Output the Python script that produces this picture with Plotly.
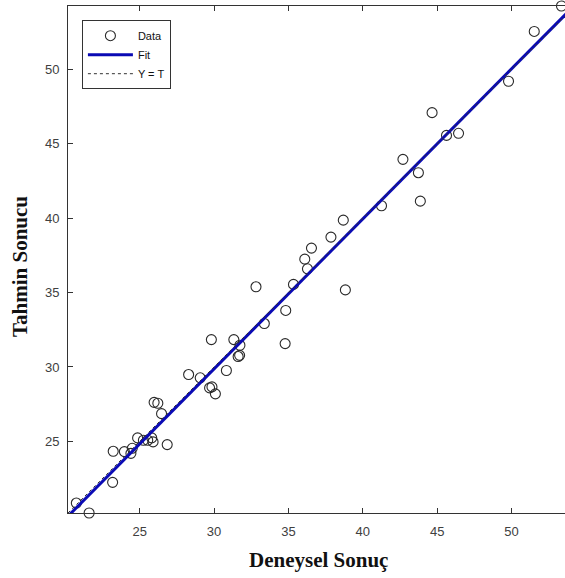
import numpy as np
import plotly.graph_objects as go

# Experimental (target) values
deneysel = [20.74, 21.60, 23.18, 23.22, 23.97, 24.41, 24.50, 24.86, 25.25, 25.54,
            25.81, 25.90, 26.85, 25.97, 26.22, 26.47, 28.29, 29.07, 29.70, 29.86,
            30.09, 30.83, 29.82, 31.33, 31.74, 31.62, 31.72, 33.38, 34.82, 34.78,
            32.82, 35.34, 36.28, 36.10, 36.55, 37.86, 38.69, 38.83, 41.26, 43.87,
            43.74, 42.70, 45.63, 46.44, 44.66, 49.80, 51.53, 53.36]
# Predicted values
tahmin = [20.85, 20.18, 22.24, 24.33, 24.31, 24.19, 24.53, 25.23, 25.07, 25.07,
          25.23, 24.96, 24.78, 27.62, 27.56, 26.86, 29.49, 29.27, 28.59, 28.66,
          28.19, 29.76, 31.84, 31.84, 31.46, 30.70, 30.78, 32.92, 33.80, 31.57,
          35.39, 35.55, 36.60, 37.25, 37.99, 38.73, 39.87, 35.18, 40.84, 41.15,
          43.06, 43.96, 45.57, 45.71, 47.10, 49.21, 52.56, 54.27]
tick_vals = [25, 30, 35, 40, 45, 50]

t = np.array(deneysel)
y = np.array(tahmin)
lo = float(min(t.min(), y.min()))
hi = float(max(t.max(), y.max()))
lim = np.array([lo, hi])
m, b = np.polyfit(t, y, 1)

fig = go.Figure()
fig.add_trace(go.Scatter(x=t, y=y, mode="markers", name="Data", cliponaxis=False,
                         marker=dict(symbol="circle-open", size=10,
                                     color="#2a2a2a", line=dict(width=1.1))))
fig.add_trace(go.Scatter(x=lim, y=m * lim + b, mode="lines", name="Fit",
                         line=dict(color="rgb(10,10,180)", width=3)))
fig.add_trace(go.Scatter(x=lim, y=lim, mode="lines", name="Y = T",
                         line=dict(color="#333333", width=1, dash="dot")))

axis_common = dict(
    tickvals=tick_vals, ticks="inside", ticklen=5, tickcolor="#333333",
    showline=True, linecolor="#333333", linewidth=1, showgrid=False,
    zeroline=False, automargin=False,
    tickfont=dict(family="Liberation Sans", size=13, color="#404040"),
)
fig.update_xaxes(range=[lo, lo + (hi - lo) * 497 / 507], mirror="ticks",
                 ticklabelstandoff=6, **axis_common)
fig.update_yaxes(range=[lo, hi], ticklabelstandoff=5, **axis_common)

title_font = dict(family="Liberation Serif", size=21, color="#111111")
fig.add_annotation(text="<b>Deneysel Sonuç</b>", xref="paper", yref="paper",
                   x=(318 - 68) / 497, y=-(560 - 513) / 507, xanchor="center",
                   yanchor="middle", showarrow=False, font=title_font)
fig.add_annotation(text="<b>Tahmin Sonucu</b>", xref="paper", yref="paper",
                   x=-(68 - 20) / 497, y=(513 - 267) / 507, xanchor="center",
                   yanchor="middle", textangle=-90, showarrow=False, font=title_font)

fig.update_layout(
    width=565, height=578,
    margin=dict(l=68, r=0, t=6, b=65),
    plot_bgcolor="white", paper_bgcolor="white",
    showlegend=True,
    legend=dict(x=0.028, y=0.972, xanchor="left", yanchor="top",
                bgcolor="white", bordercolor="#333333", borderwidth=1,
                font=dict(family="Liberation Sans", size=11, color="#111111"),
                tracegroupgap=0, itemwidth=45),
)
fig.write_html("out.html", config={"displayModeBar": False},
               post_script="document.body.style.margin='0';document.body.style.overflow='hidden';")
